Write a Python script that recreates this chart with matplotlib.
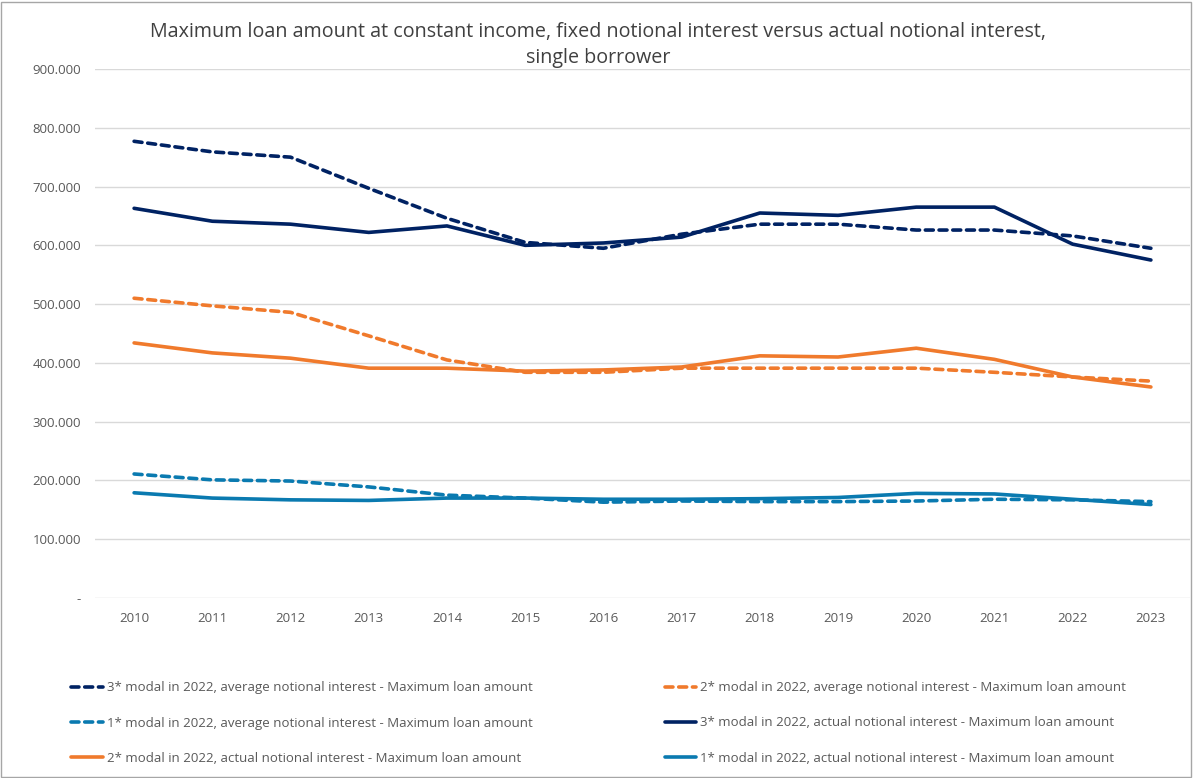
import matplotlib
matplotlib.use("Agg")
import matplotlib.pyplot as plt
from matplotlib.patches import Rectangle

years = [str(y) for y in range(2010, 2024)]

s3_avg = [777, 759, 750, 697, 646, 605, 595, 619, 636, 636, 626, 626, 616, 595]
s2_avg = [510, 497, 486, 446, 405, 384, 384, 391, 391, 391, 391, 384, 376, 369]
s1_avg = [211, 201, 199, 189, 175, 170, 163, 165, 164, 164, 165, 168, 167, 164]
s3_act = [663, 641, 636, 622, 633, 600, 604, 614, 655, 651, 665, 665, 602, 575]
s2_act = [434, 417, 408, 391, 391, 386, 388, 393, 412, 410, 425, 406, 376, 359]
s1_act = [179, 170, 167, 166, 170, 170, 168, 168, 169, 171, 178, 177, 168, 159]

labels = [
    "3* modal in 2022, average notional interest - Maximum loan amount",
    "2* modal in 2022, average notional interest - Maximum loan amount",
    "1* modal in 2022, average notional interest - Maximum loan amount",
    "3* modal in 2022, actual notional interest - Maximum loan amount",
    "2* modal in 2022, actual notional interest - Maximum loan amount",
    "1* modal in 2022, actual notional interest - Maximum loan amount",
]
yticks = [0, 100, 200, 300, 400, 500, 600, 700, 800, 900]

NAVY = "#002263"
ORANGE = "#F07A2C"
LBLUE = "#0A7AB0"
GREY = "#595959"

plt.rcParams['font.family'] = ['Open Sans', 'DejaVu Sans']

fig = plt.figure(figsize=(11.93, 7.78), dpi=100)
W, H = 1193, 778
left, right, top, bottom = 95, 1190, 69, 598
ax = fig.add_axes([left / W, 1 - bottom / H, (right - left) / W, (bottom - top) / H])

x = list(range(len(years)))
series = [
    (s3_avg, NAVY, '--'), (s2_avg, ORANGE, '--'), (s1_avg, LBLUE, '--'),
    (s3_act, NAVY, '-'), (s2_act, ORANGE, '-'), (s1_act, LBLUE, '-'),
]
handles = []
for (vals, c, ls), lab in zip(series, labels):
    kw = dict(color=c, lw=2.6, linestyle=ls, solid_capstyle='round', dash_capstyle='round')
    if ls == '--':
        kw['dashes'] = (2.2, 1.6)
    ln, = ax.plot(x, vals, **kw, label=lab)
    handles.append(ln)

ax.set_xlim(-0.5, len(years) - 0.5)
ax.set_ylim(0, 900)
ax.set_yticks(yticks)
ax.set_yticklabels(["-" if v == 0 else f"{v}.000" for v in yticks])
ax.set_xticks(x)
ax.set_xticklabels(years)
ax.grid(axis='y', color='#D9D9D9', lw=1)
ax.set_axisbelow(True)
for sp in ax.spines.values():
    sp.set_visible(False)
ax.tick_params(axis='both', length=0, colors=GREY, labelsize=9.5)
ax.tick_params(axis='y', pad=10)
ax.tick_params(axis='x', pad=10)

fig.text(598 / W, 1 - 45 / H,
         "Maximum loan amount at constant income, fixed notional interest versus actual notional interest,\nsingle borrower",
         ha='center', va='center', fontsize=14.2, color='#404040', linespacing=1.4)

# legend: row-major reading order in the reference, matplotlib fills column-major
order = [0, 2, 4, 1, 3, 5]
leg = fig.legend([handles[i] for i in order], [labels[i] for i in order],
                 ncol=2, loc='center', bbox_to_anchor=(598.5 / W, 1 - 723 / H),
                 frameon=False, fontsize=9.5, labelcolor=GREY, handlelength=2.4,
                 handletextpad=0.3, columnspacing=10.03, labelspacing=1.68)

fig.patches.append(Rectangle((1 / W, 1 / H), 1 - 3 / W, 1 - 3 / H, transform=fig.transFigure,
                             fill=False, edgecolor='#A6A6A6', lw=1))

fig.savefig("out.png", dpi=100)
